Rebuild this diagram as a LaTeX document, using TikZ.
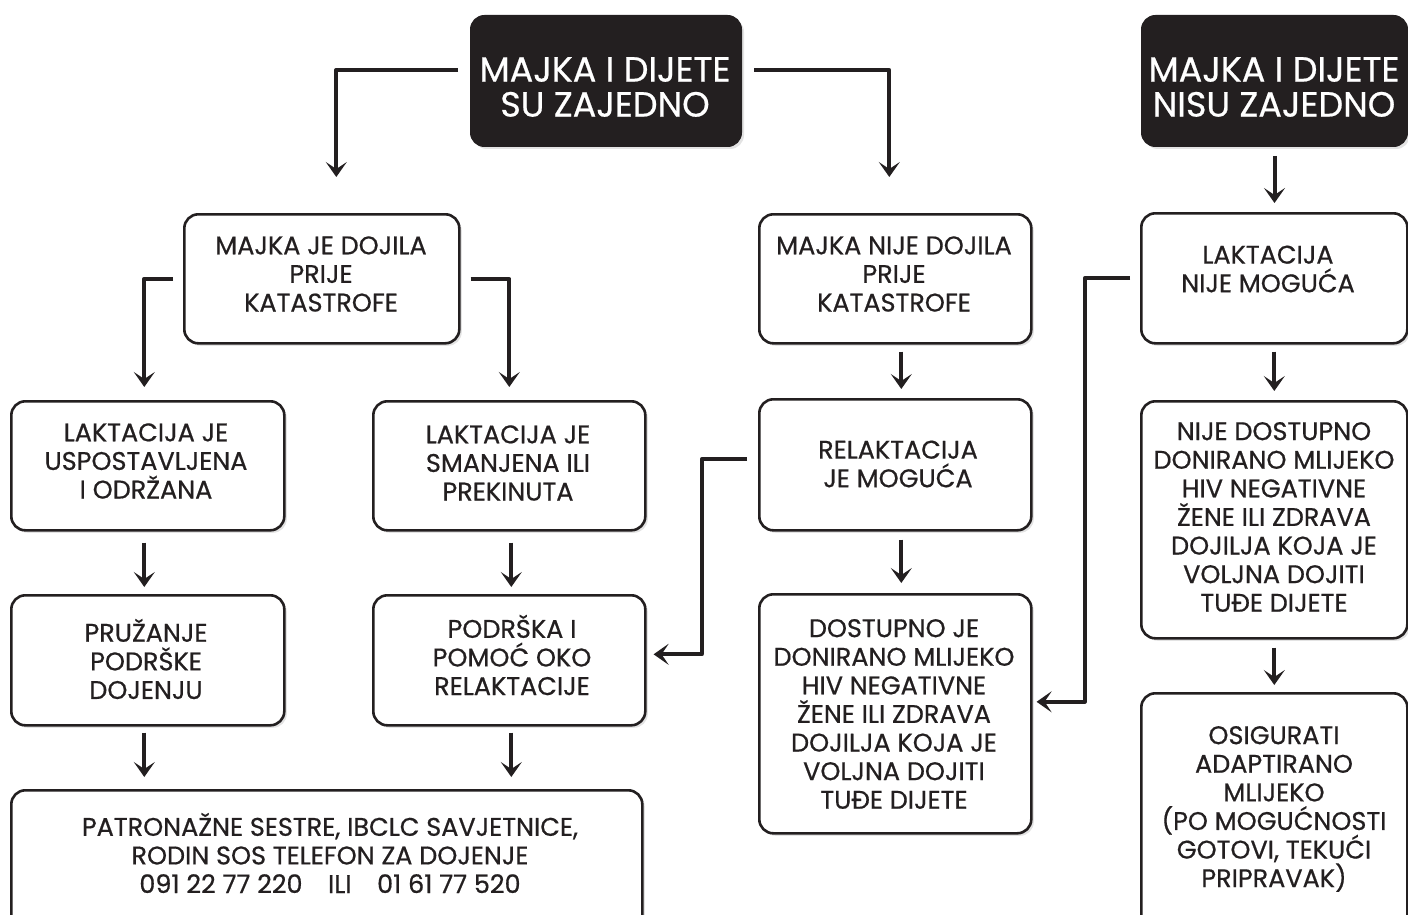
\documentclass[tikz,border=0pt]{standalone}
\usepackage{fontspec}
\setmainfont{Poppins}
\newfontfamily\medfont{Poppins}[FakeBold=0.6]
\usetikzlibrary{arrows.meta,shadows}
\definecolor{ink}{HTML}{231F20}
\begin{document}
\begin{tikzpicture}[x=1pt,y=-1pt,line join=round,
  shd/.style={drop shadow={shadow xshift=2.5pt,shadow yshift=-2.5pt,opacity=0.22}},
  box/.style={shd,draw=ink,line width=2.6pt,rounded corners=14pt,fill=white,anchor=north west,inner sep=0pt},
  dark/.style={shd,draw=ink,fill=ink,line width=1pt,rounded corners=14pt,anchor=north west,inner sep=0pt},
  txt/.style={align=center,text=ink,font=\medfont\fontsize{25.5}{28.6}\selectfont,inner sep=0pt},
  ttl/.style={align=center,text=white,font=\medfont\fontsize{35}{35}\selectfont,inner sep=0pt},
  arr/.style={draw=ink,line width=4pt,-{Stealth[length=15pt,width=21pt,inset=7pt]}},
]
\useasboundingbox (0,0) rectangle (1408,915);
\clip (0,0) rectangle (1408,915);
\fill[white] (0,0) rectangle (1408,915);

% boxes
\node[dark,minimum width=271pt,minimum height=131pt] (top1) at (470,15) {};
\node[dark,minimum width=266pt,minimum height=131pt] (top2) at (1141,15) {};
\node[box,minimum width=275pt,minimum height=129pt] (b1) at (183,213) {};
\node[box,minimum width=272pt,minimum height=129pt] (b2) at (758,213) {};
\node[box,minimum width=266pt,minimum height=130pt] (b3) at (1140,212) {};
\node[box,minimum width=273pt,minimum height=129pt] (c1) at (10,400) {};
\node[box,minimum width=272pt,minimum height=129pt] (c2) at (372,400) {};
\node[box,minimum width=272pt,minimum height=131pt] (c3) at (758,398) {};
\node[box,minimum width=266pt,minimum height=237pt] (c4) at (1140,400) {};
\node[box,minimum width=273pt,minimum height=130pt] (d1) at (10,594) {};
\node[box,minimum width=272pt,minimum height=130pt] (d2) at (372,594) {};
\node[box,minimum width=272pt,minimum height=239pt] (d3) at (758,593) {};
\node[box,minimum width=266pt,minimum height=250pt] (d4) at (1140,692) {};
\node[box,minimum width=631pt,minimum height=150pt] (e1) at (10,789) {};

% texts
\node[ttl] (top1t) at (605,87) {MAJKA I DIJETE\\SU ZAJEDNO};
\node[ttl] (top2t) at (1274,87) {MAJKA I DIJETE\\NISU ZAJEDNO};
\node[txt] (b1t) at (321,274) {MAJKA JE DOJILA\\PRIJE\\KATASTROFE};
\node[txt] (b2t) at (894,274) {MAJKA NIJE DOJILA\\PRIJE\\KATASTROFE};
\node[txt] (b3t) at (1268,269) {LAKTACIJA\\NIJE MOGUĆA};
\node[txt] (c1t) at (146,461) {LAKTACIJA JE\\USPOSTAVLJENA\\I ODRŽANA};
\node[txt] (c2t) at (508,463) {LAKTACIJA JE\\SMANJENA ILI\\PREKINUTA};
\node[txt] (c3t) at (898,464) {RELAKTACIJA\\JE MOGUĆA};
\node[txt] (c4t) at (1274,517) {NIJE DOSTUPNO\\DONIRANO MLIJEKO\\HIV NEGATIVNE\\ŽENE ILI ZDRAVA\\DOJILJA KOJA JE\\VOLJNA DOJITI\\TUĐE DIJETE};
\node[txt] (d1t) at (146,659) {PRUŽANJE\\PODRŠKE\\DOJENJU};
\node[txt] (d2t) at (512,655) {PODRŠKA I\\POMOĆ OKO\\RELAKTACIJE};
\node[txt] (d3t) at (894,714) {DOSTUPNO JE\\DONIRANO MLIJEKO\\HIV NEGATIVNE\\ŽENE ILI ZDRAVA\\DOJILJA KOJA JE\\VOLJNA DOJITI\\TUĐE DIJETE};
\node[txt] (d4t) at (1274,809) {OSIGURATI\\ADAPTIRANO\\MLIJEKO\\(PO MOGUĆNOSTI\\GOTOVI, TEKUĆI\\PRIPRAVAK)};
\node[txt] (e1t) at (330,853) {PATRONAŽNE SESTRE, IBCLC SAVJETNICE,\\RODIN SOS TELEFON ZA DOJENJE\\091 22 77 220\quad ILI\quad 01 61 77 520};

% connectors
\draw[arr] ([xshift=-12pt,yshift=11pt]top1.west) -| ([xshift=14.5pt,yshift=36pt]b1.north);
\draw[arr] ([xshift=12pt,yshift=11pt]top1.east) -| ([xshift=-6pt,yshift=36pt]b2.north);
\draw[arr,shorten <=9pt,shorten >=9pt] (top2.south) -- (top2.south |- b3.north);
\draw[arr] ([xshift=-10pt]b1.west) -| ([xshift=-3.5pt,yshift=13pt]c1.north);
\draw[arr] ([xshift=10pt]b1.east) -| ([yshift=13pt]c2.north);
\draw[arr,shorten <=7pt,shorten >=9pt] ([xshift=6pt]b2.south) -- ([xshift=6pt]b2.south |- c3.north);
\draw[arr] ([xshift=-10pt]b3.west) -| ([xshift=52pt,yshift=12pt]d3.east) -- ([xshift=4pt,yshift=12pt]d3.east);
\draw[arr,shorten <=7pt,shorten >=9pt] (b3.south) -- (b3.south |- c4.north);
\draw[arr] ([xshift=-11pt,yshift=5.5pt]c3.west) -| ([xshift=55pt,yshift=6pt]d2.east) -- ([xshift=7pt,yshift=6pt]d2.east);
\draw[arr,shorten <=8pt,shorten >=10pt] ([xshift=6pt]c3.south) -- ([xshift=6pt]c3.south |- d3.north);
\draw[arr,shorten <=11pt,shorten >=7pt] ([xshift=-3.5pt]c1.south) -- ([xshift=-3.5pt]c1.south |- d1.north);
\draw[arr,shorten <=11pt,shorten >=7pt] ([xshift=2pt]c2.south) -- ([xshift=2pt]c2.south |- d2.north);
\draw[arr,shorten <=6pt,shorten >=12pt] ([xshift=-3.5pt]d1.south) -- ([xshift=-3.5pt]d1.south |- e1.north);
\draw[arr,shorten <=6pt,shorten >=12pt] ([xshift=2pt]d2.south) -- ([xshift=2pt]d2.south |- e1.north);
\draw[arr,shorten <=8pt,shorten >=7pt] (c4.south) -- (c4.south |- d4.north);
\end{tikzpicture}
\end{document}
